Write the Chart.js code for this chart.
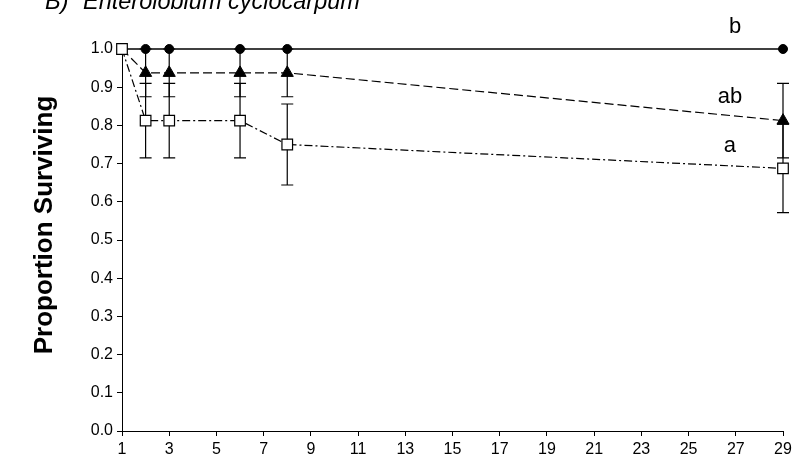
<!DOCTYPE html>
<html><head><meta charset="utf-8">
<script src="https://cdn.jsdelivr.net/npm/chart.js@4/dist/chart.umd.min.js"></script>
<style>html,body{margin:0;padding:0;background:#fff}#wrap{width:796px;height:460px;position:relative}</style>
</head><body><div id="wrap"><canvas id="c" width="796" height="460"></canvas></div>
<script>
const days = [1, 2, 3, 6, 8, 29];
const seriesB = [1.0, 1.0, 1.0, 1.0, 1.0, 1.0];
const seriesAB = [1.0, 0.9375, 0.9375, 0.9375, 0.9375, 0.8125];
const seriesA = [1.0, 0.8125, 0.8125, 0.8125, 0.75, 0.6875];
const errAB = [0, 0.0625, 0.0625, 0.0625, 0.0625, 0.0976];
const errA = [0, 0.0976, 0.0976, 0.0976, 0.106, 0.116];
const xTicks = [1, 3, 5, 7, 9, 11, 13, 15, 17, 19, 21, 23, 25, 27, 29];
const groupLabels = [{t:'b', d:26.97, v:1.042}, {t:'ab', d:26.75, v:0.859}, {t:'a', d:26.75, v:0.730}];
const titleText = ['B)', 'Enterolobium cyclocarpum'];
const yTitle = 'Proportion Surviving';

const pts = (arr) => days.map((d, i) => ({x: d, y: arr[i]}));
const FAM = '"Liberation Sans", Arial, sans-serif';

const errorBars = {
  id: 'errorBars',
  beforeDatasetsDraw(chart) {
    const ctx = chart.ctx, xs = chart.scales.x, ys = chart.scales.y;
    ctx.save();
    ctx.strokeStyle = '#000';
    ctx.lineWidth = 1.2;
    const draw = (vals, errs) => {
      days.forEach((d, i) => {
        if (!errs[i]) return;
        const px = xs.getPixelForValue(d);
        const top = ys.getPixelForValue(vals[i] + errs[i]);
        const bot = ys.getPixelForValue(vals[i] - errs[i]);
        ctx.beginPath();
        ctx.moveTo(px, top); ctx.lineTo(px, bot);
        ctx.moveTo(px - 6, top); ctx.lineTo(px + 6, top);
        ctx.moveTo(px - 6, bot); ctx.lineTo(px + 6, bot);
        ctx.stroke();
      });
    };
    draw(seriesAB, errAB);
    draw(seriesA, errA);
    ctx.restore();
  },
  afterDraw(chart) {
    const ctx = chart.ctx, xs = chart.scales.x, ys = chart.scales.y;
    ctx.save();
    ctx.fillStyle = '#000';
    ctx.font = '22px ' + FAM;
    ctx.textAlign = 'center';
    ctx.textBaseline = 'alphabetic';
    groupLabels.forEach(g => ctx.fillText(g.t, xs.getPixelForValue(g.d), ys.getPixelForValue(g.v)));
    ctx.textAlign = 'left';
    ctx.font = 'italic 23.5px ' + FAM;
    ctx.fillText(titleText[0], 45, 9);
    ctx.fillText(titleText[1], 83, 9);
    ctx.save();
    ctx.translate(45, 225);
    ctx.rotate(-Math.PI / 2);
    ctx.textAlign = 'center';
    ctx.textBaseline = 'middle';
    ctx.font = 'bold 26px ' + FAM;
    ctx.fillText(yTitle, 0, 0);
    ctx.restore();
    ctx.restore();
  }
};

new Chart(document.getElementById('c'), {
  type: 'line',
  data: {
    datasets: [
      {label: 'a', data: pts(seriesA), order: 0, clip: false, borderColor: '#000', borderWidth: 1.2,
       borderDash: [8, 3, 2, 3], pointStyle: 'rect', pointRadius: 7.5, pointBackgroundColor: '#fff',
       pointBorderColor: '#000', pointBorderWidth: 1.2, tension: 0},
      {label: 'ab', data: pts(seriesAB), order: 1, clip: false, borderColor: '#000', borderWidth: 1.2,
       borderDash: [9, 4], pointStyle: 'triangle', pointRadius: [0, 7, 7, 7, 7, 7], pointBackgroundColor: '#000',
       pointBorderColor: '#000', pointBorderWidth: 1, tension: 0},
      {label: 'b', data: pts(seriesB), order: 2, clip: false, borderColor: '#000', borderWidth: 1.3,
       pointStyle: 'circle', pointRadius: [0, 4.5, 4.5, 4.5, 4.5, 4.5], pointBackgroundColor: '#000',
       pointBorderColor: '#000', pointBorderWidth: 1, tension: 0}
    ]
  },
  options: {
    responsive: false, animation: false,
    layout: {padding: {top: 49, right: 13, left: 0, bottom: 0}},
    plugins: {legend: {display: false}, tooltip: {enabled: false}},
    scales: {
      x: {
        type: 'linear', min: 1, max: 29,
        afterBuildTicks: (s) => { s.ticks = xTicks.map(v => ({value: v})); },
        afterFit: (s) => { s.height = 29; },
        ticks: {color: '#000', font: {family: FAM, size: 16}, padding: 4, maxRotation: 0, autoSkip: false},
        grid: {drawOnChartArea: false, tickLength: 5, color: '#000', tickColor: '#000'},
        border: {color: '#000', width: 1}
      },
      y: {
        min: 0, max: 1,
        afterFit: (s) => { s.width = 122; },
        ticks: {stepSize: 0.1, color: '#000', font: {family: FAM, size: 16}, padding: 4,
                callback: (v) => v.toFixed(1)},
        grid: {drawOnChartArea: false, tickLength: 5, color: '#000', tickColor: '#000'},
        border: {color: '#000', width: 1}
      }
    }
  },
  plugins: [errorBars]
});
</script></body></html>
